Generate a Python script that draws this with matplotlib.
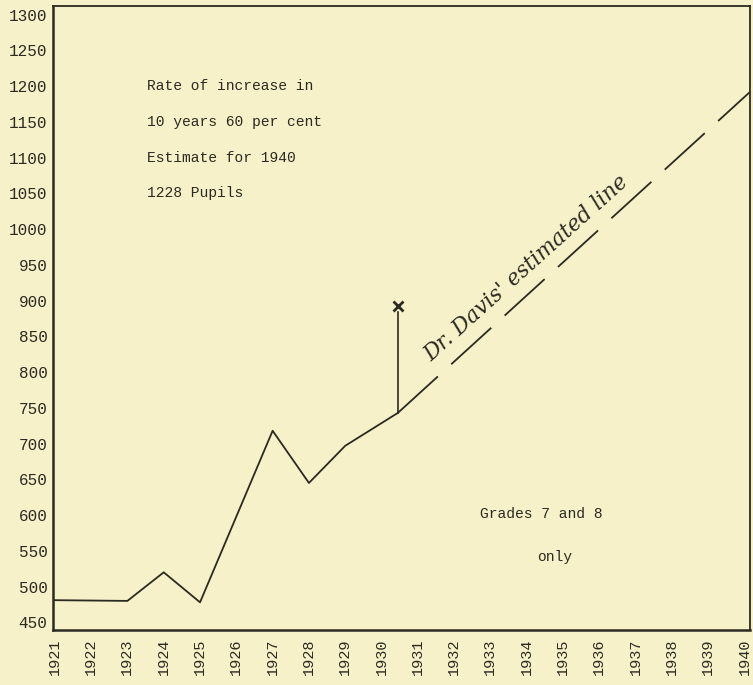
import matplotlib.pyplot as plt

# enrolment, grades 7 and 8
years = [1921, 1923, 1924, 1925, 1927, 1928, 1929, 1930.45]
pupils = [481, 480, 520, 478, 718, 645, 697, 743]

# Dr. Davis' estimated line
est_years = [1930.45, 1940.15]
est_pupils = [743, 1192]

# the crossed point above 1930
mark_year = 1930.45
mark_top = 884
mark_value = 892

xticks = list(range(1921, 1941))
yticks = list(range(450, 1301, 50))

notes = ["Rate of increase in", "10 years 60 per cent", "Estimate for 1940", "1228 Pupils"]
note_y = [1200, 1150, 1100, 1050]

bg = "#f7f1c9"
ink = "#2b2a22"
mono = "Liberation Mono"

fig = plt.figure(figsize=(7.53, 6.85), dpi=100, facecolor=bg)
ax = fig.add_axes([0.0704, 0.080, 0.9256, 0.911], facecolor=bg)

ax.plot(years, pupils, color=ink, lw=1.3)
ax.plot(est_years, est_pupils, color=ink, lw=1.3, dashes=(30, 10))
ax.plot([mark_year, mark_year], [pupils[-1], mark_top], color=ink, lw=1.2)
ax.plot([mark_year], [mark_value], marker="x", color=ink, ms=7, mew=2)

ax.set_xlim(1920.95, 1940.15)
ax.set_ylim(439, 1312)

ax.set_xticks(xticks)
ax.set_xticklabels([str(y) for y in xticks], rotation=90, family=mono, fontsize=11, color=ink)
ax.set_yticks(yticks)
ax.set_yticklabels([str(v) for v in yticks], family=mono, fontsize=11.5, color=ink)
ax.tick_params(axis="x", length=0, pad=6)
ax.tick_params(axis="y", length=0, pad=4)

for s in ax.spines.values():
    s.set_color(ink)
    s.set_linewidth(1.3)
ax.spines["left"].set_linewidth(1.8)
ax.spines["bottom"].set_linewidth(1.8)

for txt, y in zip(notes, note_y):
    ax.text(1923.55, y, txt, family=mono, fontsize=10.5, color=ink, va="center", ha="left")

ax.text(1934.4, 602, "Grades 7 and 8", family=mono, fontsize=10.5, color=ink, va="center", ha="center")
ax.text(1934.78, 541, "only", family=mono, fontsize=10.5, color=ink, va="center", ha="center")

ax.text(1934.0, 945, "Dr. Davis' estimated line", family="DejaVu Serif", style="italic",
        fontsize=15.5, color=ink, rotation=42, ha="center", va="center")

fig.savefig("out.png", dpi=100, facecolor=bg)
